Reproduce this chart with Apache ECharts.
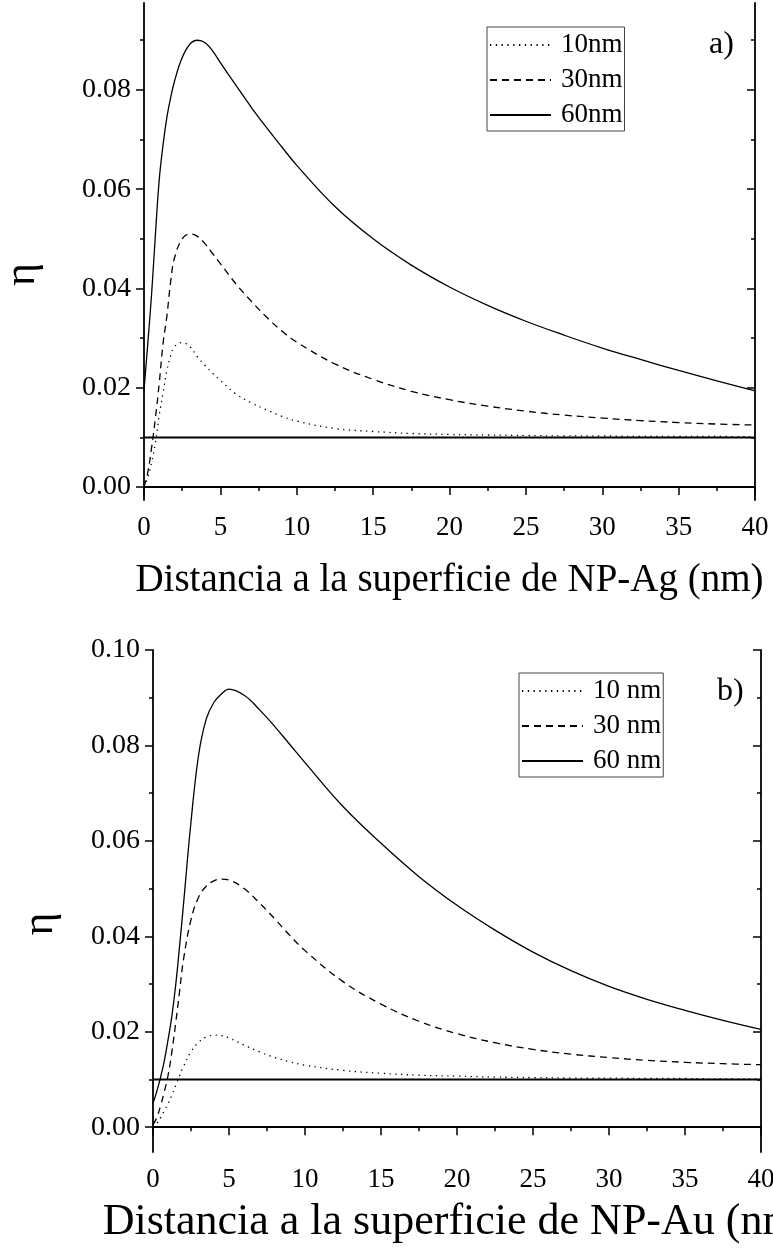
<!DOCTYPE html>
<html>
<head>
<meta charset="utf-8">
<title>eta vs distancia</title>
<script src="https://cdn.jsdelivr.net/npm/echarts@6/dist/echarts.min.js"></script>
<style>
  html, body { margin: 0; padding: 0; background: #fff; }
  #main { width: 773px; height: 1251px; }
</style>
</head>
<body>
<div id="main"></div>
<script>
// distancia a la superficie (nm), común a todas las curvas
let dist = [0, 0.25, 0.5, 0.75, 1, 1.25, 1.5, 1.75, 2, 2.5, 3, 3.5, 4, 4.5, 5, 6,
  7, 8, 9, 10, 12.5, 15, 17.5, 20, 22.5, 25, 27.5, 30, 32.5, 35, 37.5, 40]

// a) NP-Ag
let ag10 = [0.0000, 0.0020, 0.0050, 0.0090, 0.0145, 0.0190, 0.0235, 0.0265,
  0.0283, 0.0291, 0.0283, 0.0262, 0.0245, 0.0229, 0.0215, 0.0188,
  0.0170, 0.0156, 0.0143, 0.0133, 0.0118, 0.0112, 0.0108, 0.0106,
  0.0105, 0.0104, 0.0103, 0.0103, 0.0102, 0.0102, 0.0102, 0.0101]
let ag30 = [0.0000, 0.0030, 0.0080, 0.0140, 0.0210, 0.0290, 0.0345, 0.0415,
  0.0462, 0.0500, 0.0510, 0.0505, 0.0490, 0.0470, 0.0450, 0.0410,
  0.0375, 0.0343, 0.0315, 0.0292, 0.0248, 0.0217, 0.0193, 0.0176,
  0.0163, 0.0153, 0.0145, 0.0139, 0.0134, 0.0130, 0.0127, 0.0125]
let ag60 = [0.0195, 0.0290, 0.0390, 0.0510, 0.0620, 0.0690, 0.0745, 0.0785,
  0.0818, 0.0865, 0.0892, 0.0900, 0.0895, 0.0878, 0.0855, 0.0810,
  0.0766, 0.0725, 0.0686, 0.0648, 0.0565, 0.0500, 0.0447, 0.0403,
  0.0366, 0.0334, 0.0306, 0.0280, 0.0257, 0.0235, 0.0214, 0.0194]

// b) NP-Au
let au10 = [0.0000, 0.0008, 0.0020, 0.0035, 0.0050, 0.0068, 0.0088, 0.0108,
  0.0127, 0.0158, 0.0178, 0.0189, 0.0193, 0.0192, 0.0187, 0.0172,
  0.0158, 0.0146, 0.0137, 0.0130, 0.0119, 0.0113, 0.0109, 0.0107,
  0.0105, 0.0104, 0.0103, 0.0103, 0.0102, 0.0102, 0.0101, 0.0101]
let au30 = [0.0005, 0.0020, 0.0045, 0.0075, 0.0110, 0.0160, 0.0220, 0.0285,
  0.0350, 0.0435, 0.0482, 0.0505, 0.0516, 0.0520, 0.0518, 0.0500,
  0.0470, 0.0437, 0.0402, 0.0370, 0.0305, 0.0258, 0.0222, 0.0196,
  0.0177, 0.0163, 0.0153, 0.0146, 0.0140, 0.0136, 0.0133, 0.0131]
let au60 = [0.0050, 0.0075, 0.0105, 0.0140, 0.0185, 0.0235, 0.0300, 0.0380,
  0.0465, 0.0640, 0.0780, 0.0855, 0.0890, 0.0908, 0.0918, 0.0905,
  0.0875, 0.0840, 0.0802, 0.0764, 0.0672, 0.0595, 0.0525, 0.0465,
  0.0413, 0.0367, 0.0328, 0.0295, 0.0268, 0.0245, 0.0224, 0.0205]

// línea horizontal de referencia
let level = 0.01
let xRange = [0, 40]

// marcas del eje y
let agTicks = [0, 0.02, 0.04, 0.06, 0.08]
let agMinor = [0.01, 0.03, 0.05, 0.07, 0.09]
let auTicks = [0, 0.02, 0.04, 0.06, 0.08, 0.10]
let auMinor = [0.01, 0.03, 0.05, 0.07, 0.09]

let agNames = ['10nm', '30nm', '60nm']
let auNames = ['10 nm', '30 nm', '60 nm']

let serif = "'Liberation Serif', 'Times New Roman', serif"
let black = '#000'

function pairs(ys) {
  return dist.map((x, i) => [x, ys[i]])
}

// eje x inferior (con etiquetas) + eje x superior (espejo)
function xAxes(grid, name, nameSize, nameGap) {
  let base = {
    gridIndex: grid,
    type: 'value',
    min: xRange[0],
    max: xRange[1],
    interval: 5,
    splitLine: { show: false },
    axisLine: { lineStyle: { color: black, width: 1.8 } },
    minorTick: { show: true, splitNumber: 2, length: 4, lineStyle: { color: black, width: 1.5 } },
  }
  return [
    Object.assign({}, base, {
      position: 'bottom',
      axisTick: { length: 8, lineStyle: { color: black, width: 1.5 } },
      axisLabel: { color: black, fontFamily: serif, fontSize: 27, margin: 14 },
      name: name,
      nameLocation: 'middle',
      nameGap: nameGap,
      nameTextStyle: { color: black, fontFamily: serif, fontSize: nameSize },
    }),
    Object.assign({}, base, {
      position: 'top',
      axisTick: { inside: true, length: 8, lineStyle: { color: black, width: 1.5 } },
      axisLabel: { show: false },
    }),
  ]
}

// ejes y: izquierdo, izquierdo menor, derecho, derecho menor
function yAxes(grid, min, max, major, minor, nameGap, shift) {
  let base = {
    gridIndex: grid,
    type: 'value',
    min: min,
    max: max,
    splitLine: { show: false },
    axisLine: { show: false },
    axisLabel: { show: false },
  }
  return [
    Object.assign({}, base, {
      position: 'left',
      axisLine: { show: true, lineStyle: { color: black, width: 1.8 } },
      axisTick: { length: 8, customValues: major, lineStyle: { color: black, width: 1.5 } },
      axisLabel: {
        show: true, customValues: major, color: black, fontFamily: serif, fontSize: 28, margin: 13,
        formatter: v => v.toFixed(2)
      },
      name: 'η',
      nameLocation: 'middle',
      nameGap: nameGap,
      nameTextStyle: { color: black, fontFamily: serif, fontSize: 44, padding: [0, shift, 0, 0] },
    }),
    Object.assign({}, base, {
      position: 'left',
      axisTick: { length: 4, customValues: minor, lineStyle: { color: black, width: 1.5 } },
    }),
    Object.assign({}, base, {
      position: 'right',
      axisLine: { show: true, lineStyle: { color: black, width: 1.8 } },
      axisTick: { inside: true, length: 8, customValues: major, lineStyle: { color: black, width: 1.5 } },
    }),
    Object.assign({}, base, {
      position: 'right',
      axisTick: { inside: true, length: 4, customValues: minor, lineStyle: { color: black, width: 1.5 } },
    }),
  ]
}

function curve(name, ys, dash, xi, yi) {
  return {
    name: name,
    type: 'line',
    xAxisIndex: xi,
    yAxisIndex: yi,
    data: pairs(ys),
    showSymbol: false,
    symbol: 'none',
    smooth: 0.4,
    lineStyle: { color: black, width: 1.3, type: dash },
    itemStyle: { color: black },
  }
}

function refLine(xi, yi) {
  return {
    type: 'line',
    xAxisIndex: xi,
    yAxisIndex: yi,
    data: [[xRange[0], level], [xRange[1], level]],
    symbol: 'none',
    lineStyle: { color: black, width: 2 },
    silent: true,
  }
}

function legend(names, left, top) {
  return {
    data: names,
    orient: 'vertical',
    left: left,
    top: top,
    itemWidth: 61,
    itemHeight: 14,
    itemGap: 7,
    padding: [4, 2, 2, 2],
    borderColor: '#444',
    borderWidth: 1,
    selectedMode: false,
    itemStyle: { opacity: 0 },
    textStyle: { color: black, fontFamily: serif, fontSize: 27, lineHeight: 28, padding: [0, 0, 0, 5] },
  }
}

let chartDom = document.getElementById('main')
let myChart = echarts.init(chartDom)
let option = {
  animation: false,
  backgroundColor: '#fff',
  title: [
    { text: 'a)', left: 709, top: 29, padding: 0, textStyle: { color: black, fontFamily: serif, fontSize: 32, fontWeight: 'normal' } },
    { text: 'b)', left: 717, top: 676, padding: 0, textStyle: { color: black, fontFamily: serif, fontSize: 32, fontWeight: 'normal' } },
  ],
  legend: [
    legend(agNames, 487, 27),
    legend(auNames, 519, 673),
  ],
  grid: [
    { left: 144, width: 611, top: 3, height: 497, outerBoundsMode: 'none' },
    { left: 153, width: 608, top: 650, height: 502, outerBoundsMode: 'none' },
  ],
  xAxis: [
    ...xAxes(0, 'Distancia a la superficie de NP-Ag (nm)', 39, 61),
    ...xAxes(1, 'Distancia a la superficie de NP-Au (nm)', 44, 48),
  ],
  yAxis: [
    ...yAxes(0, -0.0026, 0.0975, agTicks, agMinor, 100, 46),
    ...yAxes(1, -0.0052, 0.10, auTicks, auMinor, 91, 46),
  ],
  series: [
    refLine(0, 0),
    curve(agNames[0], ag10, [1.3, 4.5], 0, 0),
    curve(agNames[1], ag30, [7, 5], 0, 0),
    curve(agNames[2], ag60, 'solid', 0, 0),
    refLine(2, 4),
    curve(auNames[0], au10, [1.3, 4.5], 2, 4),
    curve(auNames[1], au30, [7, 5], 2, 4),
    curve(auNames[2], au60, 'solid', 2, 4),
  ],
}

option && myChart.setOption(option)
</script>
</body>
</html>
